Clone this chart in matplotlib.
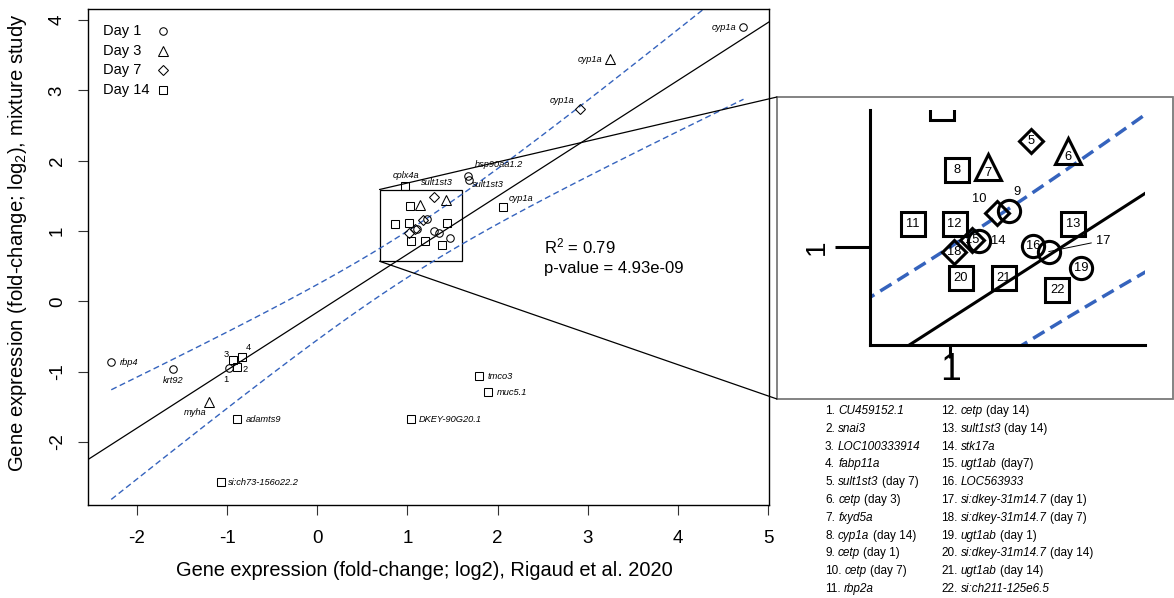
import numpy as np
import matplotlib.pyplot as plt
from matplotlib.patches import Rectangle, ConnectionPatch

plt.rcParams['font.family'] = 'Liberation Sans'
plt.rcParams['mathtext.fontset'] = 'custom'
plt.rcParams['mathtext.rm'] = 'Liberation Sans'
plt.rcParams['mathtext.it'] = 'Liberation Sans:italic'
plt.rcParams['axes.unicode_minus'] = False

W, H = 1174, 598   # figure size in pixels
PT = 0.72          # pixels -> points at dpi 100

# log2 fold-change: Rigaud et al. 2020 (x) vs mixture study (y)
genes = ['cyp1a', 'cyp1a', 'cyp1a', 'rbp4', 'krt92', 'myha', 'adamts9', 'tmco3', 'muc5.1',
         'DKEY-90G20.1', 'si:ch73-156o22.2', 'CU459152.1', 'snai3', 'LOC100333914', 'fabp11a',
         'cplx4a', 'hsp90aa1.2', 'sult1st3', 'cyp1a', 'sult1st3', 'cetp', 'fxyd5a', 'cyp1a',
         'cetp', 'cetp', 'rbp2a', 'cetp', 'sult1st3', 'stk17a', 'ugt1ab', 'LOC563933',
         'si:dkey-31m14.7', 'si:dkey-31m14.7', 'ugt1ab', 'si:dkey-31m14.7', 'ugt1ab',
         'si:ch211-125e6.5']
fc_rigaud = [4.728, 3.252, 2.919, -2.286, -1.598, -1.199, -0.888, 1.798, 1.898,
             1.043, -1.065, -0.977, -0.888, -0.932, -0.832,
             0.970, 1.668, 1.687, 2.057, 1.289, 1.424, 1.137, 1.024,
             1.213, 1.168, 0.866, 1.016, 1.442, 1.104, 1.080, 1.299,
             1.354, 1.013, 1.470, 1.038, 1.192, 1.385]
fc_mixture = [3.898, 3.442, 2.731, -0.868, -0.967, -1.437, -1.678, -1.067, -1.294,
              -1.678, -2.575, -0.953, -0.939, -0.839, -0.797,
              1.640, 1.778, 1.731, 1.341, 1.485, 1.442, 1.366, 1.355,
              1.167, 1.155, 1.105, 1.107, 1.107, 1.029, 1.031, 1.006,
              0.978, 0.974, 0.903, 0.856, 0.856, 0.800]
days = [1, 3, 7, 1, 1, 3, 14, 14, 14,
        14, 14, 1, 14, 14, 14,
        14, 1, 1, 14, 7, 3, 3, 14,
        1, 7, 14, 14, 14, 1, 7, 1,
        1, 7, 1, 14, 14, 14]
# numbers used for the crowded points (main plot 1-4, zoom panel 5-22)
point_numbers = [0] * 11 + [1, 2, 3, 4] + [0] * 4 + list(range(5, 23))
# points that get their gene name written next to them in the main plot
named_points = list(range(11)) + [15, 16, 17, 18, 19]

# linear fit and its confidence band
r2 = 0.79
p_value = 4.93e-09
fit_slope = 0.824
fit_intercept = -0.155
band_h0 = 0.33     # half-width at the band centre
band_g = 0.215
band_xc = 1.0

# zoomed window
zoom_x = (0.69, 1.60)
zoom_y = (0.57, 1.59)

foot_genes = ['CU459152.1', 'snai3', 'LOC100333914', 'fabp11a', 'sult1st3', 'cetp', 'fxyd5a',
              'cyp1a', 'cetp', 'cetp', 'rbp2a', 'cetp', 'sult1st3', 'stk17a', 'ugt1ab',
              'LOC563933', 'si:dkey-31m14.7', 'si:dkey-31m14.7', 'ugt1ab', 'si:dkey-31m14.7',
              'ugt1ab', 'si:ch211-125e6.5']
foot_notes = ['', '', '', '', '(day 7)', '(day 3)', '', '(day 14)', '(day 1)', '(day 7)', '',
              '(day 14)', '(day 14)', '', '(day7)', '', '(day 1)', '(day 7)', '(day 1)',
              '(day 14)', '(day 14)', '']

legend_days = [1, 3, 7, 14]

# styles
markers = {1: 'o', 3: '^', 7: 'D', 14: 's'}
ms_main = {1: 5.4, 3: 7.6, 7: 4.8, 14: 5.8}
ms_zoom = {1: 16, 3: 19, 7: 12.5, 14: 17.5}
blue = '#3563bd'

# label offsets (pixels) and alignment for the named points of the main plot
label_pos = {0: (-7.5, 0, 'right'), 1: (-8.5, 0, 'right'), 2: (-6.5, 9, 'right'),
             3: (9, 0, 'left'), 4: (0, -11, 'center'), 5: (-14, -10, 'center'),
             6: (9, 0, 'left'), 7: (8, 0, 'left'), 8: (8, 0, 'left'), 9: (7, 0, 'left'),
             10: (7, 0, 'left'), 15: (1, 11, 'center'), 16: (7, 12, 'left'),
             17: (3, -5, 'left'), 18: (6, 9, 'left'), 19: (3, 14, 'center')}
number_pos = {1: (-3, -11), 2: (8, -2), 3: (-7, 6), 4: (6, 10)}
zoom_number_pos = {6: (0, -6.5), 7: (0, -5.5), 9: (8, 19), 10: (-18, 14),
                   14: (19, 0), 17: (54, 11)}

x = np.array(fc_rigaud)
y = np.array(fc_mixture)
d = np.array(days)

x_band = np.linspace(x.min(), x.max(), 300)
y_fit = fit_intercept + fit_slope * x_band
half = np.sqrt(band_h0 ** 2 + (band_g * (x_band - band_xc)) ** 2)

fig = plt.figure(figsize=(W / 100, H / 100), dpi=100)

# ---------------- main panel ----------------
ax = fig.add_axes([88 / W, 1 - 505 / H, (769 - 88) / W, (505 - 9) / H])
ax.set_xlim(-2.544, 5.011)
ax.set_ylim(-2.898, 4.158)

ax.axline((0, fit_intercept), slope=fit_slope, color='k', lw=0.9)
ax.plot(x_band, y_fit + half, color=blue, lw=1.0, dashes=(4.3, 2.5))
ax.plot(x_band, y_fit - half, color=blue, lw=1.0, dashes=(4.3, 2.5))

for day in legend_days:
    sel = d == day
    ax.plot(x[sel], y[sel], ls='none', marker=markers[day], ms=ms_main[day],
            mfc='none', mec='k', mew=0.75)

for i in named_points:
    dx, dy, ha = label_pos[i]
    ax.annotate(genes[i], (x[i], y[i]), xytext=(dx * PT, dy * PT), textcoords='offset points',
                ha=ha, va='center', fontsize=6.7, style='italic')
for i, n in enumerate(point_numbers):
    if n in number_pos:
        dx, dy = number_pos[n]
        ax.annotate(str(n), (x[i], y[i]), xytext=(dx * PT, dy * PT), textcoords='offset points',
                    ha='center', va='center', fontsize=6.7)

ax.add_patch(Rectangle((zoom_x[0], zoom_y[0]), zoom_x[1] - zoom_x[0], zoom_y[1] - zoom_y[0],
                       fill=False, ec='k', lw=0.9))

ax.text(2.52, 0.683, 'R$^2$ = %.2f' % r2, fontsize=12, va='baseline')
ax.text(2.52, 0.40, 'p-value = %.2e' % p_value, fontsize=12, va='baseline')

# legend: label first, symbol after
leg_rows = [31, 51, 70, 90]
for day, py in zip(legend_days, leg_rows):
    yy = (505 - py) / 496
    ax.text(0.022, yy, 'Day %d' % day, transform=ax.transAxes, fontsize=10.5, va='center')
    ax.plot(0.110, yy, marker=markers[day], ms=ms_main[day], mfc='none', mec='k', mew=0.75,
            transform=ax.transAxes, clip_on=False)

ax.set_xticks(range(-2, 6))
ax.set_yticks(range(-2, 5))
ax.tick_params(length=7, width=0.8, color='#333333', labelsize=13.5)
ax.tick_params(axis='x', pad=11)
ax.tick_params(axis='y', pad=9, labelrotation=90)
for lab in ax.get_yticklabels():
    lab.set_va('center')
for s in ax.spines.values():
    s.set_linewidth(1.0)

fig.text(424 / W, 1 - 570 / H, 'Gene expression (fold-change; log2), Rigaud et al. 2020',
         fontsize=14.4, ha='center', va='center')
fig.text(18 / W, 1 - 243 / H, 'Gene expression (fold-change; log$_2$), mixture study',
         fontsize=14.6, ha='center', va='center', rotation=90)

# ---------------- zoomed panel ----------------
fig.add_artist(Rectangle((777 / W, 1 - 399 / H), 396 / W, 302 / H, transform=fig.transFigure,
                         fill=False, ec='#7a7a7a', lw=1.3))
for yc, py in [(zoom_y[1], 97), (zoom_y[0], 399)]:
    fig.add_artist(ConnectionPatch((zoom_x[0], yc), (777 / W, 1 - py / H), coordsA='data',
                                   coordsB='figure fraction', axesA=ax, color='k', lw=0.9))

axz = fig.add_axes([870 / W, 1 - 345 / H, 275 / W, 235 / H])
axz.set_xlim(0.712, 1.70)
axz.set_ylim(0.548, 1.63)
axz.patch.set_alpha(0)
axz.plot(x_band, y_fit, color='k', lw=2.2)
axz.plot(x_band, y_fit + half, color=blue, lw=2.5, dashes=(3.8, 2.0))
axz.plot(x_band, y_fit - half, color=blue, lw=2.5, dashes=(3.8, 2.0))
for day in legend_days:
    sel = d == day
    axz.plot(x[sel], y[sel], ls='none', marker=markers[day], ms=ms_zoom[day],
             mfc='none', mec='k', mew=2.2)
for i, n in enumerate(point_numbers):
    if n >= 5:
        dx, dy = zoom_number_pos.get(n, (0, 0))
        if n == 17:
            axz.annotate(str(n), (x[i], y[i]), xytext=(dx * PT, dy * PT),
                         textcoords='offset points', ha='center', va='center', fontsize=9.3,
                         arrowprops=dict(arrowstyle='-', color='k', lw=0.7,
                                         shrinkA=1, shrinkB=0))
        else:
            axz.annotate(str(n), (x[i], y[i]), xytext=(dx * PT, dy * PT),
                         textcoords='offset points', ha='center', va='center', fontsize=9.3)

axz.spines['top'].set_visible(False)
axz.spines['right'].set_visible(False)
axz.spines['left'].set_linewidth(2.2)
axz.spines['bottom'].set_linewidth(2.2)
axz.set_xticks([1])
axz.set_yticks([1])
axz.tick_params(axis='y', length=25, width=2.2, labelsize=20, pad=4, labelrotation=90)
axz.tick_params(axis='x', length=9, width=2.2, labelsize=27, pad=-4)
for lab in axz.get_yticklabels():
    lab.set_va('center')

# ---------------- numbered list ----------------
foot_size = 8.5
space = 0.278 * foot_size
for k, (g, note) in enumerate(zip(foot_genes, foot_notes)):
    col, row = divmod(k, 11)
    px = 825 + 116 * col
    py = 414 + 17.8 * row
    t = fig.text(px / W, 1 - py / H, '%d.' % (k + 1), fontsize=foot_size, va='baseline')
    t = ax.annotate(g, xy=(1, 0), xycoords=t, xytext=(space, 0), textcoords='offset points',
                    fontsize=foot_size, style='italic', va='bottom', ha='left')
    if note:
        ax.annotate(note, xy=(1, 0), xycoords=t, xytext=(space, 0), textcoords='offset points',
                    fontsize=foot_size, va='bottom', ha='left')

fig.savefig('out.png', dpi=100)
